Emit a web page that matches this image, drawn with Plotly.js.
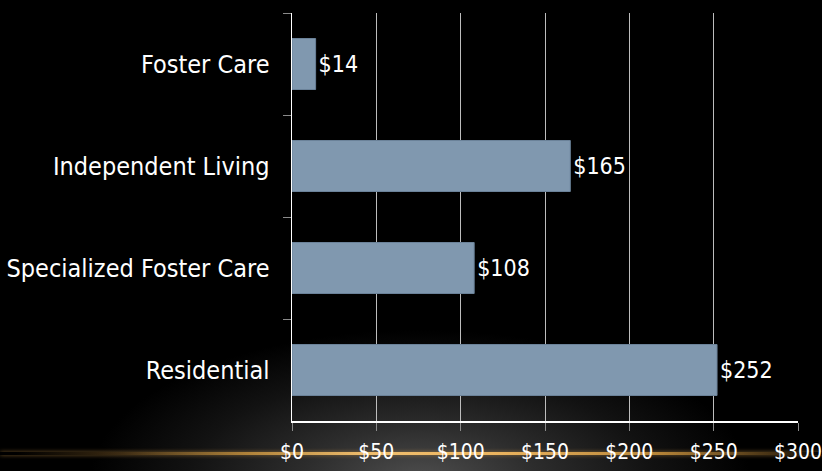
<!DOCTYPE html>
<html>
<head>
<meta charset="utf-8">
<script src="https://cdn.plot.ly/plotly-3.0.1.min.js"></script>
<style>
  html, body { margin: 0; padding: 0; background: #000; }
  #wrap { position: relative; width: 822px; height: 471px; overflow: hidden;
    background: radial-gradient(ellipse 330px 150px at 420px 480px, rgba(78,78,78,1) 0%, rgba(45,45,45,1) 35%, rgba(18,18,18,1) 70%, rgba(0,0,0,1) 100%), #000; }
  #gold { position: absolute; left: 0; top: 452px; width: 822px; height: 3px;
    background: linear-gradient(to right, rgba(0,0,0,0) 2%, rgba(120,85,35,0.5) 15%, rgba(190,140,60,0.9) 30%, rgba(240,190,110,1) 45%, rgba(235,180,95,1) 60%, rgba(200,145,60,0.9) 80%, rgba(120,85,35,0.5) 95%, rgba(0,0,0,0) 100%);
    box-shadow: 0 0 4px rgba(200,150,70,0.6); }
  #chart { position: absolute; left: 0; top: 0; width: 822px; height: 471px; }
</style>
</head>
<body>
<div id="wrap">
  <div id="gold"></div>
  <div id="chart"></div>
</div>
<script>
const categories = ["Foster Care", "Independent Living", "Specialized Foster Care", "Residential"];
const values = [14, 165, 108, 252];
const labels = ["$14", "$165", "$108", "$252"];
const tickVals = [0, 50, 100, 150, 200, 250, 300];
const tickText = ["$0", "$50", "$100", "$150", "$200", "$250", "$300"];

const FONT = "'Liberation Sans Narrow', 'Arial Narrow', 'DejaVu Sans Condensed', sans-serif";

const trace = {
  type: "bar",
  orientation: "h",
  y: categories,
  x: values,
  text: labels,
  textposition: "outside",
  cliponaxis: false,
  textfont: { family: FONT, size: 23, color: "#ffffff" },
  marker: { color: "#8098af", line: { color: "#6b8299", width: 1 } },
  width: 0.5,
  hoverinfo: "none"
};

const layout = {
  width: 822, height: 471,
  margin: { l: 292, r: 24, t: 13, b: 50 },
  paper_bgcolor: "rgba(0,0,0,0)",
  plot_bgcolor: "rgba(0,0,0,0)",
  showlegend: false,
  font: { family: FONT, size: 25, color: "#ffffff" },
  xaxis: {
    range: [0, 300],
    tickvals: tickVals,
    ticktext: tickText,
    showgrid: true,
    gridcolor: "#bdbdbd",
    gridwidth: 1,
    zeroline: false,
    showline: true,
    linecolor: "#ffffff",
    linewidth: 1.5,
    ticks: "outside",
    ticklen: 8,
    tickcolor: "#8a8a8a",
    tickfont: { family: FONT, size: 21, color: "#ffffff" },
    ticklabelstandoff: 3,
    ticklabeloverflow: "allow",
    fixedrange: true
  },
  yaxis: {
    autorange: "reversed",
    showline: true,
    linecolor: "#ffffff",
    linewidth: 1.5,
    showgrid: false,
    ticks: "outside",
    tickson: "boundaries",
    ticklen: 8,
    tickcolor: "#8a8a8a",
    tickfont: { family: FONT, size: 25, color: "#ffffff" },
    ticklabelstandoff: 16,
    fixedrange: true
  }
};

Plotly.newPlot("chart", [trace], layout, { displayModeBar: false, staticPlot: true });
</script>
</body>
</html>
